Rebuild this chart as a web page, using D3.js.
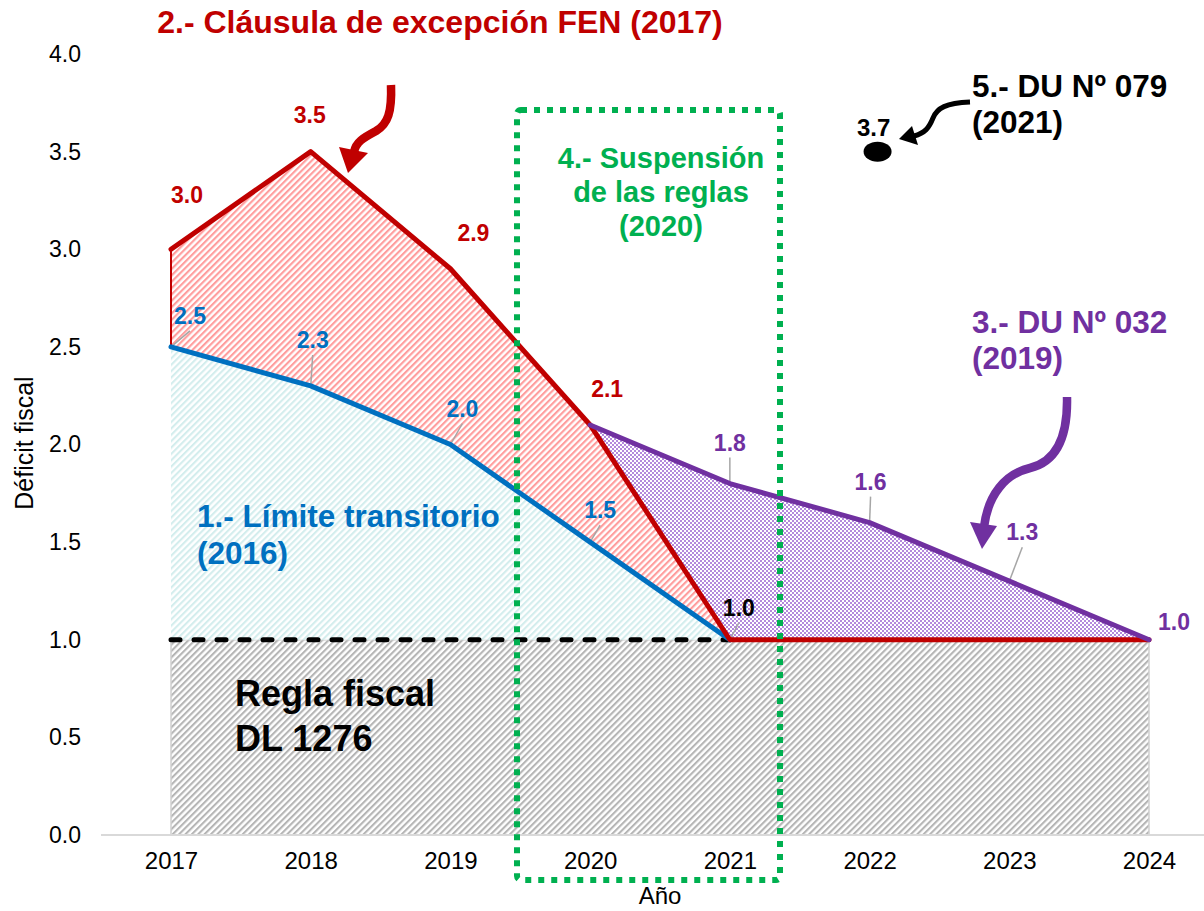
<!DOCTYPE html>
<html>
<head>
<meta charset="utf-8">
<script src="https://cdn.jsdelivr.net/npm/d3@7"></script>
<style>
  body { margin: 0; background: #fff; }
  svg text { font-family: "Liberation Sans", Arial, sans-serif; }
</style>
</head>
<body>
<div id="chart"></div>
<script>
// data
var years = [2017, 2018, 2019, 2020, 2021, 2022, 2023, 2024];
var fenValues = [3.0, 3.5, 2.9, 2.1, 1.0, 1.0, 1.0, 1.0];        // 2.- Cláusula de excepción FEN
var limiteValues = [2.5, 2.3, 2.0, 1.5, 1.0, null, null, null]; // 1.- Límite transitorio
var du032Values = [null, null, null, 2.1, 1.8, 1.6, 1.3, 1.0];  // 3.- DU Nº 032
var reglaValues = [1.0, 1.0, 1.0, 1.0, 1.0, 1.0, 1.0, 1.0];     // Regla fiscal DL 1276
var du079Year = 2022, du079Pos = 3.5, du079Label = "3.7";
var yTicks = [0, 0.5, 1.0, 1.5, 2.0, 2.5, 3.0, 3.5, 4.0];

var W = 1204, H = 911;
var red = "#c00000", blue = "#0070c0", purple = "#7030a0", green = "#00b050";

var svg = d3.select("#chart").append("svg")
  .attr("width", W).attr("height", H);

var x = d3.scaleLinear().domain([2017, 2024]).range([171, 1149]);
var y = d3.scaleLinear().domain([0, 4]).range([835, 54]);

// patterns
var defs = svg.append("defs");
function stripes(id, color, size, lw) {
  var p = defs.append("pattern").attr("id", id)
    .attr("patternUnits", "userSpaceOnUse")
    .attr("width", size).attr("height", size)
    .attr("patternTransform", "rotate(45)");
  p.append("rect").attr("width", size).attr("height", size).attr("fill", "#fff");
  p.append("line").attr("x1", 1).attr("x2", 1).attr("y1", 0).attr("y2", size)
    .attr("stroke", color).attr("stroke-width", lw);
}
stripes("hatchRed", "#ff9d9d", 4.5, 2.3);
stripes("hatchTeal", "#d3eded", 4.5, 2.2);
stripes("hatchGray", "#b5b5b5", 4.5, 2.2);
var chk = defs.append("pattern").attr("id", "checkPurple")
  .attr("patternUnits", "userSpaceOnUse").attr("width", 4).attr("height", 4);
chk.append("rect").attr("width", 4).attr("height", 4).attr("fill", "#fff");
chk.append("rect").attr("width", 2).attr("height", 2).attr("fill", "#b389dc");
chk.append("rect").attr("x", 2).attr("y", 2).attr("width", 2).attr("height", 2).attr("fill", "#b389dc");

var rows = years.map(function(yr, i) {
  return {year: yr, fen: fenValues[i], lim: limiteValues[i], du: du032Values[i], regla: reglaValues[i]};
});

// areas
svg.append("path").datum(rows)
  .attr("fill", "url(#hatchGray)").attr("stroke", "#d0d0d0").attr("stroke-width", 1.5)
  .attr("d", d3.area().x(function(d) { return x(d.year); }).y0(y(0)).y1(function(d) { return y(d.regla); }));

var limRows = rows.filter(function(d) { return d.lim != null; });
svg.append("path").datum(limRows)
  .attr("fill", "url(#hatchTeal)")
  .attr("d", d3.area().x(function(d) { return x(d.year); })
    .y0(function(d) { return y(d.regla); }).y1(function(d) { return y(d.lim); }));

svg.append("path").datum(limRows)
  .attr("fill", "url(#hatchRed)")
  .attr("d", d3.area().x(function(d) { return x(d.year); })
    .y0(function(d) { return y(d.lim); }).y1(function(d) { return y(d.fen); }));

var duRows = rows.filter(function(d) { return d.du != null; });
svg.append("path").datum(duRows)
  .attr("fill", "url(#checkPurple)")
  .attr("d", d3.area().x(function(d) { return x(d.year); })
    .y0(function(d) { return y(d.fen); }).y1(function(d) { return y(d.du); }));

// thin red edge at the start of the FEN band
svg.append("line")
  .attr("x1", x(years[0])).attr("x2", x(years[0]))
  .attr("y1", y(fenValues[0])).attr("y2", y(limiteValues[0]))
  .attr("stroke", red).attr("stroke-width", 2);

// x axis line
svg.append("line").attr("x1", 101).attr("x2", W).attr("y1", y(0)).attr("y2", y(0))
  .attr("stroke", "#d9d9d9").attr("stroke-width", 2);

// axes (labels only)
var yAxis = svg.append("g").attr("transform", "translate(81,0)")
  .call(d3.axisLeft(y).tickValues(yTicks).tickFormat(d3.format(".1f")).tickSize(0).tickPadding(0));
yAxis.select(".domain").remove();
yAxis.selectAll("text").attr("font-size", 23).attr("fill", "#000")
  .style("font-family", "'Liberation Sans', Arial, sans-serif");

var xAxis = svg.append("g").attr("transform", "translate(0," + y(0) + ")")
  .call(d3.axisBottom(x).tickValues(years).tickFormat(d3.format("d")).tickSize(0).tickPadding(17));
xAxis.select(".domain").remove();
xAxis.selectAll("text").attr("font-size", 24).attr("fill", "#000")
  .style("font-family", "'Liberation Sans', Arial, sans-serif");

svg.append("text").attr("x", 660).attr("y", 904).attr("text-anchor", "middle")
  .attr("font-size", 24).text("Año");
svg.append("text").attr("transform", "translate(33,443) rotate(-90)")
  .attr("text-anchor", "middle").attr("font-size", 25).text("Déficit fiscal");

// leader lines + labels
// label offsets from the point: [dx, dy(baseline), leader?]
var labelSets = [
  {values: fenValues, color: red, idx: [0, 1, 2, 3],
   off: [[16, -46, 0], [-1, -29, 0], [23, -28, 0], [17, -28, 0]]},
  {values: limiteValues, color: blue, idx: [0, 1, 2, 3],
   off: [[19, -23, 1], [2, -38, 1], [12, -28, 1], [10, -24, 1]]},
  {values: du032Values, color: purple, idx: [4, 5, 6, 7],
   off: [[0, -33, 1], [1, -33, 1], [13, -41, 1], [25, -10, 0]]},
  {values: reglaValues, color: "#000", idx: [4],
   off: [[9, -24, 1]]}
];
var labels = [];
labelSets.forEach(function(s) {
  s.idx.forEach(function(i, k) {
    labels.push({year: years[i], v: s.values[i], color: s.color,
      dx: s.off[k][0], dy: s.off[k][1], leader: s.off[k][2]});
  });
});

svg.append("g").selectAll("line").data(labels.filter(function(d) { return d.leader; }))
  .enter().append("line")
  .attr("x1", function(d) { return x(d.year) + d.dx; })
  .attr("y1", function(d) { return y(d.v) + d.dy + 7; })
  .attr("x2", function(d) { return x(d.year); })
  .attr("y2", function(d) { return y(d.v); })
  .attr("stroke", "#a6a6a6").attr("stroke-width", 1.5);

// lines
svg.append("path").datum(rows.filter(function(d) { return d.year <= 2021; }))
  .attr("fill", "none").attr("stroke", "#000").attr("stroke-width", 5)
  .attr("stroke-dasharray", "9,14").attr("stroke-linecap", "round")
  .attr("d", d3.line().x(function(d) { return x(d.year); }).y(function(d) { return y(d.regla); }));

function drawLine(data, key, color) {
  svg.append("path").datum(data)
    .attr("fill", "none").attr("stroke", color).attr("stroke-width", 5)
    .attr("stroke-linejoin", "round").attr("stroke-linecap", "round")
    .attr("d", d3.line().x(function(d) { return x(d.year); }).y(function(d) { return y(d[key]); }));
}
drawLine(limRows, "lim", blue);
drawLine(rows, "fen", red);
drawLine(duRows, "du", purple);

// data labels
svg.append("g").selectAll("text").data(labels).enter().append("text")
  .attr("x", function(d) { return x(d.year) + d.dx; })
  .attr("y", function(d) { return y(d.v) + d.dy; })
  .attr("text-anchor", "middle").attr("font-size", 23).attr("font-weight", "bold")
  .attr("fill", function(d) { return d.color; })
  .text(function(d) { return d3.format(".1f")(d.v); });

// DU 079 point
svg.append("ellipse").attr("cx", x(du079Year) + 8).attr("cy", y(du079Pos))
  .attr("rx", 14).attr("ry", 10).attr("fill", "#000");
svg.append("text").attr("x", x(du079Year) + 4).attr("y", y(du079Pos) - 16)
  .attr("text-anchor", "middle").attr("font-size", 24).attr("font-weight", "bold")
  .text(du079Label);

// green suspension box
svg.append("rect").attr("x", 517).attr("y", 110).attr("width", 263).attr("height", 770)
  .attr("rx", 4).attr("fill", "none").attr("stroke", green)
  .attr("stroke-width", 6).attr("stroke-dasharray", "6,7");

// annotations
function note(lines, px, py, lh, size, color, anchor) {
  var t = svg.append("text").attr("font-size", size).attr("font-weight", "bold")
    .attr("fill", color).attr("text-anchor", anchor || "start");
  lines.forEach(function(l, i) {
    t.append("tspan").attr("x", px).attr("y", py + i * lh).text(l);
  });
}
note(["2.- Cláusula de excepción FEN (2017)"], 440, 33, 0, 32, red, "middle");
note(["1.- Límite transitorio", "(2016)"], 197, 527, 37, 31.5, blue);
note(["Regla fiscal", "DL 1276"], 235, 706, 45, 36, "#000");
note(["4.- Suspensión", "de las reglas", "(2020)"], 661, 168, 34, 29, green, "middle");
note(["3.- DU Nº 032", "(2019)"], 972, 333, 36, 31.5, purple);
note(["5.- DU Nº 079", "(2021)"], 972, 97, 36, 31.5, "#000");

// curved arrows
function arrow(d, tip, b1, b2, color, w) {
  svg.append("path").attr("d", d).attr("fill", "none")
    .attr("stroke", color).attr("stroke-width", w);
  svg.append("path").attr("d", "M" + tip + "L" + b1 + "L" + b2 + "Z").attr("fill", color);
}
arrow("M391,85 C392,112 388,124 376,131 C363,138 356,142 354,152",
  [348, 173], [339, 147], [368, 153], red, 8.5);
arrow("M1067,397 C1068,440 1055,462 1030,468 C1005,474 988,495 984,527",
  [982, 549], [970, 522], [997, 526], purple, 8.5);
arrow("M970,102 C946,103 937,108 933,118 C929,128 925,133 914,136",
  [899, 139], [912, 126], [918, 145], "#000", 5);
</script>
</body>
</html>
